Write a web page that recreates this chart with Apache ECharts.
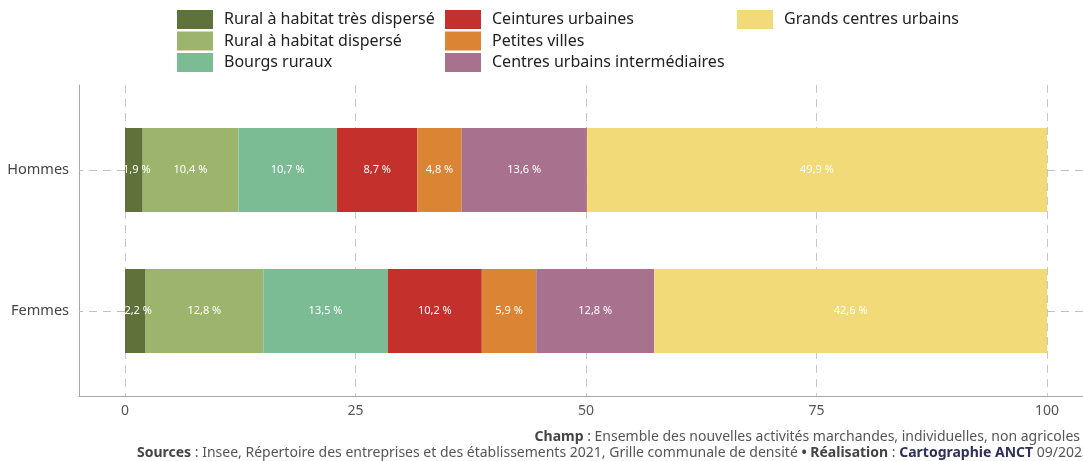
<!DOCTYPE html>
<html>
<head>
<meta charset="utf-8">
<script src="https://cdn.jsdelivr.net/npm/echarts@6/dist/echarts.min.js"></script>
<style>
  html, body { margin: 0; padding: 0; background: #fff; }
  #chart { width: 1083px; height: 461px; }
</style>
</head>
<body>
<div id="chart"></div>
<script>
// catégories et valeurs (en %)
const categories = ['Hommes', 'Femmes'];
const seriesNames = [
  'Rural à habitat très dispersé',
  'Rural à habitat dispersé',
  'Bourgs ruraux',
  'Ceintures urbaines',
  'Petites villes',
  'Centres urbains intermédiaires',
  'Grands centres urbains'
];
const ruralTresDisperse = [1.9, 2.2];
const ruralDisperse = [10.4, 12.8];
const bourgsRuraux = [10.7, 13.5];
const ceinturesUrbaines = [8.7, 10.2];
const petitesVilles = [4.8, 5.9];
const centresIntermediaires = [13.6, 12.8];
const grandsCentres = [49.9, 42.6];
const xTicks = [0, 25, 50, 75, 100];

const colors = ['#5f7239', '#9db46c', '#7bbc94', '#c4302b', '#db8534', '#a8728f', '#f2da78'];
const values = [ruralTresDisperse, ruralDisperse, bourgsRuraux, ceinturesUrbaines,
  petitesVilles, centresIntermediaires, grandsCentres];

const chart = echarts.init(document.getElementById('chart'));

const fmt = v => String(v).replace('.', ',') + ' %';

const series = seriesNames.map((name, i) => ({
  name: name,
  type: 'bar',
  stack: 'total',
  xAxisIndex: 2,
  yAxisIndex: 2,
  barWidth: 84,
  // le petit segment passe devant pour que son étiquette déborde
  z: i === 0 ? 3 : 2,
  itemStyle: { color: colors[i] },
  label: {
    show: true,
    position: 'inside',
    color: '#fff',
    fontSize: 11,
    fontFamily: 'Noto Sans',
    offset: i === 0 ? [3, 0] : [0, 0],
    formatter: p => fmt(p.value)
  },
  data: values[i]
}));

const legendText = {
  fontSize: 16,
  fontFamily: 'Noto Sans',
  color: '#222',
  padding: [0, 0, 0, 6]
};
function legendCol(left, names) {
  return {
    left: left, top: 10, orient: 'vertical', padding: 0,
    itemWidth: 36, itemHeight: 19, itemGap: 2.5,
    icon: 'rect', selectedMode: false,
    textStyle: legendText,
    data: names
  };
}

const dash = [8, 6];

chart.setOption({
  animation: false,
  legend: [
    legendCol(177, seriesNames.slice(0, 3)),
    legendCol(445, seriesNames.slice(3, 6)),
    legendCol(737, seriesNames.slice(6))
  ],
  grid: [
    { left: 79, right: 0, top: 85, bottom: 65 },     // cadre
    { left: 125, right: 36, top: 85, bottom: 65 },   // graduations
    { left: 125, right: 36, top: 99.5, bottom: 79.5 } // barres
  ],
  xAxis: [
    { gridIndex: 0, type: 'value', min: 0, max: 1,
      axisLine: { show: true, lineStyle: { color: '#a8a8a8' } },
      axisTick: { show: false }, axisLabel: { show: false }, splitLine: { show: false } },
    { gridIndex: 1, type: 'value', min: xTicks[0], max: xTicks[xTicks.length - 1], interval: 25,
      axisLine: { show: false }, axisTick: { show: false },
      axisLabel: { color: '#555', fontSize: 14, fontFamily: 'Noto Sans', margin: 8 },
      splitLine: { show: true, lineStyle: { color: '#c8c8c8', type: dash } } },
    { gridIndex: 2, type: 'value', min: 0, max: 100, show: false }
  ],
  yAxis: [
    { gridIndex: 0, type: 'value', min: 0, max: 1,
      axisLine: { show: true, lineStyle: { color: '#a8a8a8' } },
      axisTick: { show: false }, axisLabel: { show: false }, splitLine: { show: false } },
    { gridIndex: 1, type: 'value', show: false },
    { gridIndex: 2, type: 'category', inverse: true, data: categories,
      axisLine: { show: false },
      axisTick: { show: true, alignWithLabel: true, length: 46,
        lineStyle: { color: '#c0c0c0', type: dash } },
      axisLabel: { color: '#444', fontSize: 14.5, fontFamily: 'Noto Sans', margin: 56 } },
    { gridIndex: 2, type: 'category', inverse: true, data: categories, position: 'right',
      axisLine: { show: false },
      axisTick: { show: true, alignWithLabel: true, length: 36,
        lineStyle: { color: '#c0c0c0', type: dash } },
      axisLabel: { show: false } }
  ],
  series: series,
  graphic: [
    {
      type: 'text', right: 3, top: 430,
      style: {
        text: '{b|Champ} : Ensemble des nouvelles activités marchandes, individuelles, non agricoles',
        fontSize: 14, fontFamily: 'Noto Sans', fill: '#555',
        rich: { b: { fontWeight: 'bold', fill: '#444', fontSize: 14, fontFamily: 'Noto Sans' } }
      }
    },
    {
      type: 'text', left: 137, top: 446,
      style: {
        text: '{b|Sources} : Insee, Répertoire des entreprises et des établissements 2021, Grille communale de densité {b|• Réalisation} : {n|Cartographie ANCT} 09/2023',
        fontSize: 14, fontFamily: 'Noto Sans', fill: '#555',
        rich: {
          b: { fontWeight: 'bold', fill: '#444', fontSize: 14, fontFamily: 'Noto Sans' },
          n: { fontWeight: 'bold', fill: '#2e2f5c', fontSize: 14, fontFamily: 'Noto Sans' }
        }
      }
    }
  ]
});
</script>
</body>
</html>
